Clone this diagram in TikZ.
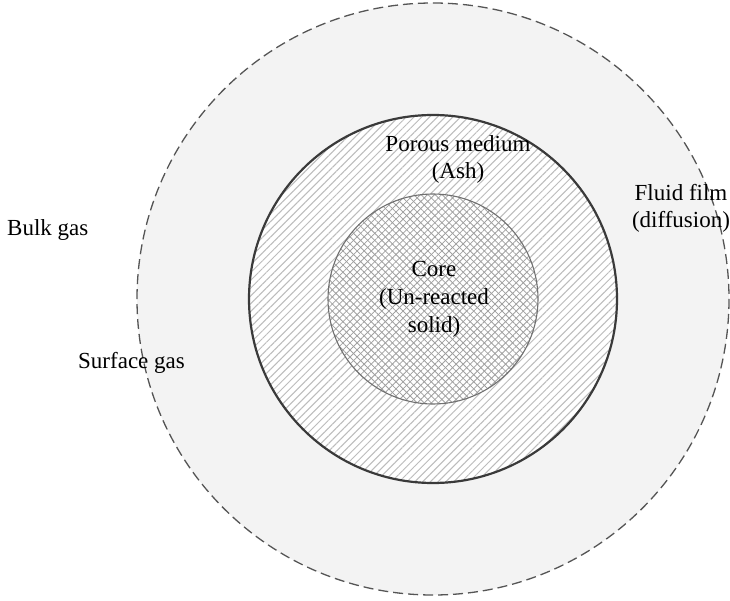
\documentclass[tikz,border=0pt]{standalone}
\usepackage{fontspec}
\setmainfont{Liberation Serif}
\usetikzlibrary{patterns.meta}
\definecolor{outerfill}{HTML}{F3F3F3}
\definecolor{dashcol}{HTML}{555555}
\definecolor{ringcol}{HTML}{3A3A3A}
\definecolor{corecol}{HTML}{707070}
\definecolor{hatchcol}{HTML}{BCBCBC}
\definecolor{crosscol}{HTML}{A0A0A0}
\tikzset{
  lbl/.style={font=\fontsize{23}{27.5}\selectfont, inner sep=0pt, align=center, text=black},
  outerring/.style={draw=dashcol, line width=1.3pt, dash pattern=on 10pt off 5pt, fill=outerfill},
  ashring/.style={draw=ringcol, line width=2.2pt},
  corering/.style={draw=corecol, line width=1.1pt},
}
\begin{document}
\begin{tikzpicture}[x=1pt,y=-1pt]
\useasboundingbox (0,0) rectangle (730,601);
\coordinate (c) at (433,299);
% outer bulk / fluid film
\path[outerring] (c) circle[radius=296];
% ash layer
\fill[white] (c) circle[radius=184];
\fill[pattern={Lines[angle=45,distance=5.5pt,line width=1pt]}, pattern color=hatchcol] (c) circle[radius=184];
\draw[ashring] (c) circle[radius=184];
% core
\fill[white] (c) circle[radius=105];
\fill[pattern={Lines[angle=45,distance=5pt,line width=0.8pt]}, pattern color=crosscol] (c) circle[radius=105];
\fill[pattern={Lines[angle=-45,distance=5pt,line width=0.8pt]}, pattern color=crosscol] (c) circle[radius=105];
\draw[corering] (c) circle[radius=105];
% labels (base anchor = baseline of last line)
\node[lbl, anchor=base] (porous) at (458,179) {Porous medium\\(Ash)};
\node[lbl, anchor=base] (core) at (434,332) {Core\\(Un-reacted\\solid)};
\node[lbl, anchor=base] (film) at (681,228) {Fluid film\\(diffusion)};
\node[lbl, anchor=base west] (bulk) at (7,236) {Bulk gas};
\node[lbl, anchor=base west] (surf) at (78,368) {Surface gas};
\end{tikzpicture}
\end{document}
